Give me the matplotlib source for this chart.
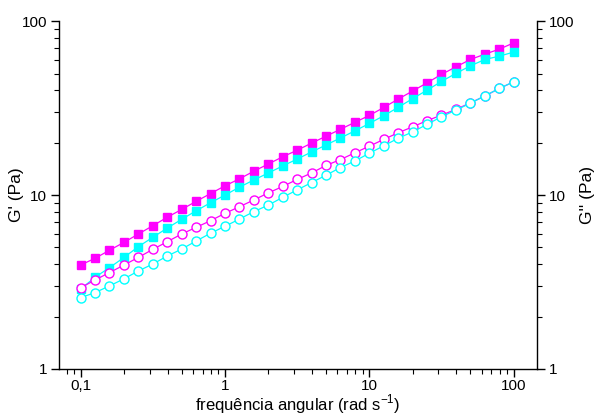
import numpy as np
import matplotlib
matplotlib.use("Agg")
import matplotlib.pyplot as plt
from matplotlib.ticker import LogLocator, NullFormatter

plt.rcParams['font.family'] = ['Liberation Sans', 'DejaVu Sans']

# frequencia angular (rad/s), 10 pontos por decada
freq = [0.1, 0.126, 0.158, 0.2, 0.251, 0.316, 0.398, 0.501, 0.631, 0.794,
        1.0, 1.26, 1.58, 2.0, 2.51, 3.16, 3.98, 5.01, 6.31, 7.94,
        10.0, 12.6, 15.8, 20.0, 25.1, 31.6, 39.8, 50.1, 63.1, 79.4, 100.0]

# G' amostra 1 (magenta, quadrado cheio)
g1_mag = [3.96, 4.33, 4.81, 5.35, 5.97, 6.66, 7.45, 8.27, 9.2, 10.2,
          11.3, 12.4, 13.7, 15.1, 16.6, 18.1, 19.9, 21.8, 23.9, 26.2,
          28.7, 31.9, 35.6, 39.7, 44.2, 49.4, 54.6, 60.2, 64.6, 69.0, 75.0]
# G' amostra 2 (ciano, quadrado cheio)
g1_cya = [2.88, 3.37, 3.82, 4.38, 5.05, 5.71, 6.46, 7.25, 8.12, 9.03,
          10.0, 11.1, 12.2, 13.4, 14.7, 16.1, 17.7, 19.4, 21.3, 23.4,
          25.8, 28.6, 31.9, 35.9, 40.1, 45.0, 50.1, 55.3, 60.2, 62.9, 66.4]
# G'' amostra 1 (magenta, circulo aberto)
g2_mag = [2.93, 3.25, 3.58, 3.96, 4.38, 4.87, 5.39, 5.97, 6.52, 7.12,
          7.85, 8.57, 9.36, 10.3, 11.2, 12.3, 13.4, 14.8, 16.0, 17.5,
          19.1, 20.9, 22.8, 24.7, 26.8, 28.8, 31.1, 33.9, 37.1, 41.0, 44.8]
# G'' amostra 2 (ciano, circulo aberto)
g2_cya = [2.57, 2.75, 3.00, 3.30, 3.66, 4.01, 4.46, 4.89, 5.44, 6.03,
          6.61, 7.28, 8.02, 8.76, 9.70, 10.7, 11.8, 13.0, 14.4, 15.7,
          17.4, 19.2, 21.2, 23.1, 25.5, 28.2, 30.8, 33.7, 37.2, 41.0, 44.8]

magenta = '#ff00ff'
ciano = '#00ffff'

fig = plt.figure(figsize=(5.95, 4.15), dpi=100)
ax = fig.add_axes([0.0992, 0.111, 0.8033, 0.838])

ax.plot(freq, g1_mag, '-', color=magenta, lw=0.9, marker='s', ms=5.2, mec=magenta, mfc=magenta)
ax.plot(freq, g1_cya, '-', color=ciano, lw=0.9, marker='s', ms=5.2, mec=ciano, mfc=ciano)
ax.plot(freq, g2_mag, '-', color=magenta, lw=0.9, marker='o', ms=6.5, mec=magenta, mfc='white', mew=1.0)
ax.plot(freq, g2_cya, '-', color=ciano, lw=0.9, marker='o', ms=6.5, mec=ciano, mfc='white', mew=1.0)

ax.set_xscale('log')
ax.set_yscale('log')
ax.set_xlim(0.0708, 145)
ax.set_ylim(1, 100)

ax.set_xticks([0.1, 1, 10, 100])
ax.set_xticklabels(['0,1', '1', '10', '100'])
ax.set_yticks([1, 10, 100])
ax.set_yticklabels(['1', '10', '100'])
ax.xaxis.set_minor_locator(LogLocator(base=10, subs=np.arange(2, 10)))
ax.yaxis.set_minor_locator(LogLocator(base=10, subs=np.arange(2, 10)))
ax.xaxis.set_minor_formatter(NullFormatter())
ax.yaxis.set_minor_formatter(NullFormatter())

ax.spines['top'].set_visible(False)
ax.spines['right'].set_visible(False)
for s in ['left', 'bottom']:
    ax.spines[s].set_linewidth(1.0)
ax.tick_params(which='major', direction='out', length=5.5, width=1.0, labelsize=11, pad=3)
ax.tick_params(axis='x', which='major', pad=2)
ax.tick_params(which='minor', direction='out', length=3.5, width=0.8)

ax.set_xlabel('frequência angular (rad s$^{\\mathregular{-1}}$)', fontsize=12, labelpad=-1)
ax.set_ylabel("G' (Pa)", fontsize=12.5, labelpad=-2)

# eixo da direita para G''
ax2 = ax.twinx()
ax2.set_yscale('log')
ax2.set_ylim(1, 100)
ax2.set_yticks([1, 10, 100])
ax2.set_yticklabels(['1', '10', '100'])
ax2.yaxis.set_minor_locator(LogLocator(base=10, subs=np.arange(2, 10)))
ax2.yaxis.set_minor_formatter(NullFormatter())
ax2.spines['top'].set_visible(False)
ax2.spines['left'].set_visible(False)
ax2.spines['bottom'].set_visible(False)
ax2.spines['right'].set_linewidth(1.0)
ax2.tick_params(which='major', direction='out', length=5.5, width=1.0, labelsize=11, pad=3)
ax2.tick_params(which='minor', direction='out', length=3.5, width=0.8)
ax2.set_ylabel("G'' (Pa)", fontsize=12.5, labelpad=4)

fig.savefig('out.png', dpi=100)
